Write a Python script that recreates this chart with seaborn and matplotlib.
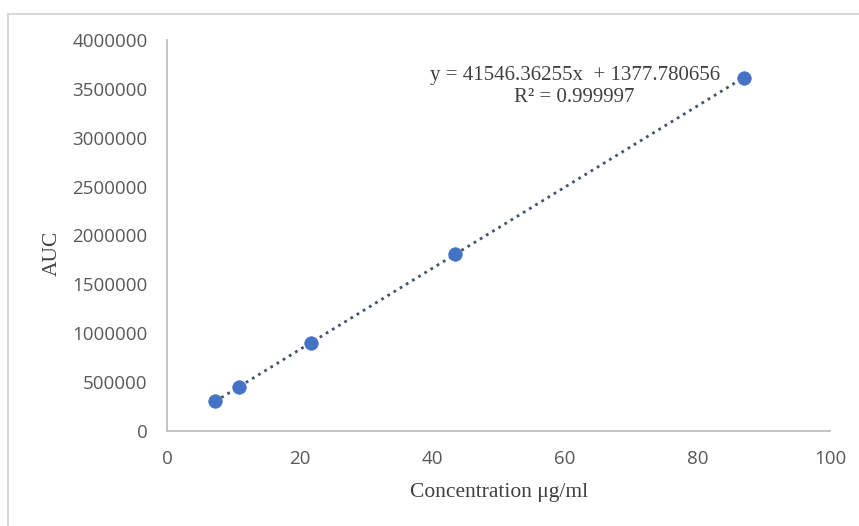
import matplotlib
matplotlib.use("Agg")
import matplotlib.pyplot as plt
import numpy as np
import pandas as pd
import seaborn as sns
from matplotlib.patches import Rectangle

# Calibration points (concentration in ug/ml vs peak area)
conc = [7.25, 10.875, 21.75, 43.5, 87.0]
auc = [305000, 452000, 905000, 1810000, 3615000]
slope = 41546.36255
intercept = 1377.780656
r2 = 0.999997
x_ticks = [0, 20, 40, 60, 80, 100]
y_ticks = [0, 500000, 1000000, 1500000, 2000000, 2500000, 3000000, 3500000, 4000000]

df = pd.DataFrame({"conc": conc, "auc": auc})
fit = pd.DataFrame({"conc": [min(conc), max(conc)]})
fit["auc"] = slope * fit["conc"] + intercept

sns.set_style("white")
plt.rcParams["font.family"] = ["Open Sans", "DejaVu Sans"]
serif = ["Liberation Serif", "DejaVu Serif"]

fig = plt.figure(figsize=(8.59, 5.26), dpi=100)
ax = fig.add_axes([0.1944, 0.1806, 0.7718, 0.7434])

# light frame round the chart area
fig.patches.append(Rectangle((8 / 859, -0.02), 1.0, 1 - 13.5 / 526 + 0.02,
                             transform=fig.transFigure, fill=False,
                             edgecolor="#d9d9d9", linewidth=1.5))

ax.plot(fit["conc"], fit["auc"], linestyle=(0, (1, 1.6)), color="#44546a",
        linewidth=2.0, zorder=2)
sns.scatterplot(data=df, x="conc", y="auc", ax=ax, s=95, color="#4472c4",
                edgecolor="#4472c4", linewidth=0.5, zorder=3)

ax.set_xlim(0, 100)
ax.set_ylim(0, 4000000)
ax.set_xticks(x_ticks)
ax.set_yticks(y_ticks)
ax.set_xticklabels([str(v) for v in x_ticks])
ax.set_yticklabels([str(v) for v in y_ticks])
ax.tick_params(axis="both", length=0, labelsize=13.5, labelcolor="#595959")
ax.tick_params(axis="x", pad=14)
ax.tick_params(axis="y", pad=14)

for side in ["top", "right"]:
    ax.spines[side].set_visible(False)
for side in ["left", "bottom"]:
    ax.spines[side].set_color("#bfbfbf")
    ax.spines[side].set_linewidth(1.3)

ax.set_xlabel("Concentration μg/ml", family=serif, fontsize=15.5, color="#404040")
ax.set_ylabel("AUC", family=serif, fontsize=15.5, color="#404040")
ax.xaxis.set_label_coords(0.5015, -0.132)
ax.yaxis.set_label_coords(-0.158, 0.455)

ax.text(0.6155, 0.910, f"y = {slope}x  + {intercept}", transform=ax.transAxes,
        ha="center", va="center", family=serif, fontsize=15, color="#404040")
ax.text(0.614, 0.854, f"R² = {r2}", transform=ax.transAxes,
        ha="center", va="center", family=serif, fontsize=15, color="#404040")

fig.savefig("out.png", dpi=100)
